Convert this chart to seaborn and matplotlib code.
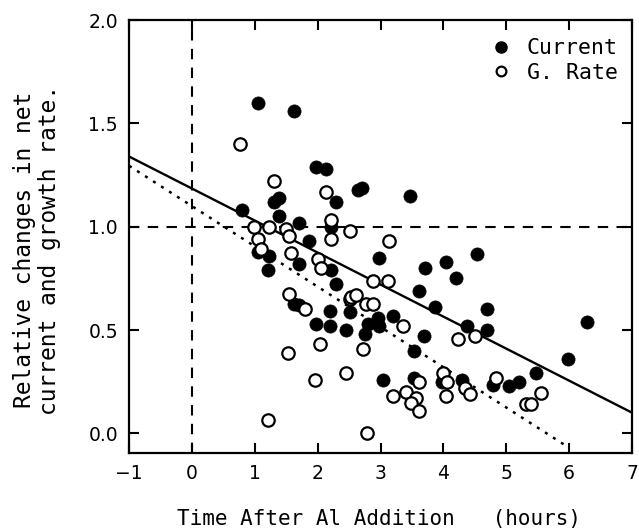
import matplotlib
matplotlib.use("Agg")
import matplotlib.pyplot as plt
import seaborn as sns
import numpy as np
import pandas as pd
from matplotlib.lines import Line2D

# Current (filled circles)
cur_x = [0.79, 1.05, 1.63, 1.98, 2.14, 1.31, 1.38, 2.29, 1.38, 1.71, 2.22, 1.87, 1.05, 1.23,
         1.71, 2.22, 1.21, 2.29, 2.52, 1.63, 1.71, 2.20, 1.98, 2.20, 2.45, 2.64, 2.70, 3.47,
         2.97, 3.70, 4.04, 4.54, 4.20, 3.62, 3.86, 4.70, 4.37, 4.70, 2.75, 2.80, 2.96, 2.98,
         3.20, 3.69, 3.53, 3.04, 3.53, 3.97, 4.29, 4.79, 6.29, 5.98, 5.47, 5.05, 5.21]
cur_y = [1.08, 1.60, 1.56, 1.29, 1.28, 1.12, 1.14, 1.12, 1.05, 1.02, 1.00, 0.93, 0.88, 0.86,
         0.82, 0.79, 0.79, 0.725, 0.587, 0.628, 0.62, 0.59, 0.53, 0.52, 0.50, 1.18, 1.19, 1.15,
         0.85, 0.80, 0.83, 0.87, 0.75, 0.69, 0.61, 0.60, 0.52, 0.50, 0.48, 0.53, 0.56, 0.52,
         0.57, 0.47, 0.40, 0.26, 0.27, 0.25, 0.26, 0.235, 0.54, 0.36, 0.29, 0.23, 0.25]

# Growth rate (open circles)
gr_x = [0.76, 1.30, 2.14, 2.22, 0.98, 1.22, 1.50, 1.55, 2.22, 2.51, 1.05, 1.10, 1.58, 2.00,
        2.05, 2.52, 1.54, 1.80, 2.04, 1.53, 1.96, 2.45, 1.21, 3.14, 2.88, 3.12, 2.53, 2.61,
        2.77, 2.88, 3.36, 2.72, 4.51, 4.23, 3.62, 3.20, 3.41, 3.57, 3.49, 3.62, 4.00, 4.05,
        4.04, 4.34, 4.42, 4.84, 2.79, 5.55, 5.31, 5.40]
gr_y = [1.40, 1.22, 1.17, 1.035, 1.00, 1.00, 0.99, 0.955, 0.94, 0.98, 0.94, 0.89, 0.875, 0.846,
        0.80, 0.652, 0.673, 0.60, 0.43, 0.39, 0.26, 0.29, 0.063, 0.93, 0.735, 0.735, 0.66, 0.668,
        0.628, 0.628, 0.52, 0.41, 0.47, 0.455, 0.25, 0.18, 0.20, 0.17, 0.147, 0.108, 0.29, 0.25,
        0.18, 0.22, 0.19, 0.27, 0.0, 0.195, 0.14, 0.14]

# Fitted lines: intercept, slope, x-range
fit_current = [1.185, -0.155]
fit_current_range = [-1.0, 7.0]
fit_growth = [1.10, -0.195]
fit_growth_range = [-1.0, 6.0]

x_ticks = [-1, 0, 1, 2, 3, 4, 5, 6, 7]
y_ticks = [0.0, 0.5, 1.0, 1.5, 2.0]

sns.set_style("ticks")
plt.rcParams['font.family'] = ['DejaVu Sans Mono', 'DejaVu Sans']
for k in ["text.color", "axes.labelcolor", "xtick.color", "ytick.color", "axes.edgecolor"]:
    plt.rcParams[k] = "black"

fig = plt.figure(figsize=(6.39, 5.31), dpi=100)
ax = fig.add_axes([0.202, 0.147, 0.787, 0.815])

df_c = pd.DataFrame({"x": cur_x, "y": cur_y})
df_g = pd.DataFrame({"x": gr_x, "y": gr_y})

# reference dashed lines
ax.axvline(0, color="black", lw=1.5, ls=(0, (5, 4)), zorder=1)
ax.axhline(1.0, color="black", lw=1.5, ls=(0, (5, 4)), zorder=1)

# fit lines
xc = np.array(fit_current_range)
ax.plot(xc, fit_current[0] + fit_current[1] * xc, color="black", lw=1.7, zorder=2)
xg = np.array(fit_growth_range)
ax.plot(xg, fit_growth[0] + fit_growth[1] * xg, color="black", lw=1.8,
        ls=(0, (1.2, 2.6)), zorder=2)

sns.scatterplot(data=df_c, x="x", y="y", ax=ax, color="black", edgecolor="black",
                s=90, marker="o", linewidth=0.5, zorder=3)
sns.scatterplot(data=df_g, x="x", y="y", ax=ax, facecolor="white", edgecolor="black",
                s=80, marker="o", linewidth=1.6, zorder=4)

ax.set_xlim(-1, 7)
ax.set_ylim(-0.095, 2.0)
ax.set_xticks(x_ticks)
ax.set_xticklabels([str(t).replace("-", "\u2212") for t in x_ticks], family="DejaVu Sans")
ax.set_yticks(y_ticks)
ax.set_yticklabels([f"{t:.1f}" for t in y_ticks], family="DejaVu Sans")
ax.tick_params(direction="in", length=7, width=1.5, top=True, right=True,
               labelsize=13.5)
ax.tick_params(axis="x", pad=8)
ax.tick_params(axis="y", pad=8)
for sp in ax.spines.values():
    sp.set_linewidth(1.6)
    sp.set_color("black")

ax.set_xlabel("Time After Al Addition   (hours)", fontsize=15)
ax.xaxis.set_label_coords(0.497, -0.129)
ax.set_ylabel("Relative changes in net\ncurrent and growth rate.", fontsize=16.5,
              linespacing=1.1)
ax.yaxis.set_label_coords(-0.183, 0.47)
ax.yaxis.label.set_verticalalignment("center")

handles = [Line2D([], [], marker="o", ls="", color="black", markersize=8),
           Line2D([], [], marker="o", ls="", markerfacecolor="white",
                  markeredgecolor="black", markeredgewidth=1.6, markersize=7)]
ax.legend(handles, ["Current", "G. Rate"], loc="upper right", frameon=False,
          fontsize=15.5, handletextpad=0.7, borderaxespad=0, borderpad=0,
          labelspacing=0.2, handlelength=1.0, bbox_to_anchor=(0.972, 0.958))

fig.savefig("out.png", dpi=100)
